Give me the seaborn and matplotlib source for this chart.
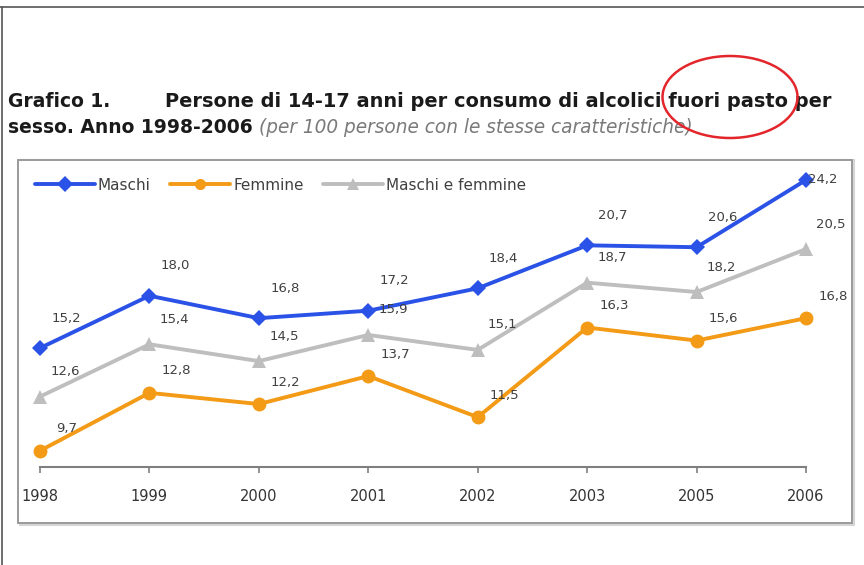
import numpy as np
import pandas as pd
import matplotlib
matplotlib.use("Agg")
import matplotlib.pyplot as plt
from matplotlib.patches import Rectangle, Ellipse
from matplotlib.lines import Line2D
import seaborn as sns

# ---- data ----
anni = ["1998", "1999", "2000", "2001", "2002", "2003", "2005", "2006"]
maschi = [15.2, 18.0, 16.8, 17.2, 18.4, 20.7, 20.6, 24.2]
femmine = [9.7, 12.8, 12.2, 13.7, 11.5, 16.3, 15.6, 16.8]
maschi_e_femmine = [12.6, 15.4, 14.5, 15.9, 15.1, 18.7, 18.2, 20.5]
serie_nomi = ["Maschi", "Femmine", "Maschi e femmine"]

titolo_num = "Grafico 1."
titolo_1 = "Persone di 14-17 anni per consumo di alcolici fuori pasto per"
titolo_2 = "sesso. Anno 1998-2006"
sottotitolo = "(per 100 persone con le stesse caratteristiche)"

df = pd.DataFrame({
    "anno": anni * 3,
    "valore": maschi + femmine + maschi_e_femmine,
    "serie": [serie_nomi[0]] * len(anni) + [serie_nomi[1]] * len(anni) + [serie_nomi[2]] * len(anni),
})

# ---- style ----
sns.set_style("white")
plt.rcParams["font.family"] = ["DejaVu Sans"]

W, H = 864, 565
fig = plt.figure(figsize=(W / 100, H / 100), dpi=100)
fig.patch.set_facecolor("white")

def fx(px):
    return px / W

def fy(py):
    return 1 - py / H

colori = {"Maschi": "#2B52E6", "Femmine": "#F39A16", "Maschi e femmine": "#BEBEBE"}
marcatori = {"Maschi": "D", "Femmine": "o", "Maschi e femmine": "^"}
msize = {"Maschi": 8.5, "Femmine": 10, "Maschi e femmine": 10}

# outer screenshot frame
fig.add_artist(Line2D([0, 1], [fy(7), fy(7)], transform=fig.transFigure, color="#555555", lw=1.2))
fig.add_artist(Line2D([fx(1.5), fx(1.5)], [fy(7), 0], transform=fig.transFigure, color="#555555", lw=1.2))

# chart box
fig.add_artist(Rectangle((fx(20), fy(525)), fx(834), 365 / H, transform=fig.transFigure,
                         facecolor="none", edgecolor="#d6d6d6", lw=1.5, zorder=0))
fig.add_artist(Rectangle((fx(18), fy(523)), fx(834), 363 / H, transform=fig.transFigure,
                         facecolor="white", edgecolor="#9a9a9a", lw=1.4, zorder=0))

# axes (plot area)
ax = fig.add_axes([fx(18), fy(467), fx(834), (467 - 160) / H])
ax.set_facecolor("none")
ax.patch.set_alpha(0)

sns.lineplot(data=df, x="anno", y="valore", hue="serie", style="serie",
             hue_order=serie_nomi, style_order=serie_nomi,
             palette=colori, markers=marcatori, dashes=False,
             linewidth=2.8, markersize=10, markeredgewidth=0, ax=ax)

for line in ax.lines:
    line.set_clip_on(False)
for line, nome in zip(ax.lines, serie_nomi):
    line.set_markersize(msize[nome])

ax.set_xlim(-0.201, 7.42)
ax.set_ylim(8.83, 25.27)

for s in ["top", "left", "right"]:
    ax.spines[s].set_visible(False)
ax.spines["bottom"].set_bounds(0, len(anni) - 1)
ax.spines["bottom"].set_color("#7f7f7f")
ax.spines["bottom"].set_linewidth(1.5)
ax.set_yticks([])
ax.set_xlabel("")
ax.set_ylabel("")
ax.tick_params(axis="x", direction="out", length=4, width=1.2, color="#7f7f7f",
               pad=12, labelsize=10.5, labelcolor="#333333", bottom=True)

# data labels
offsets = {"Maschi": (26, 30), "Femmine": (27, 22), "Maschi e femmine": (25, 25)}
valori = {"Maschi": maschi, "Femmine": femmine, "Maschi e femmine": maschi_e_femmine}
to_pt = 72 / 100
ymax = ax.get_ylim()[1]
for nome in serie_nomi:
    dx, dy = offsets[nome]
    for i, v in enumerate(valori[nome]):
        ddx, ddy = dx, dy
        # keep labels inside plot box: if too close to top, put label to the right
        if v > ymax - 2.5:
            ddx, ddy = 17, 0
        ax.annotate(f"{v:.1f}".replace(".", ","), (i, v),
                    xytext=(ddx * to_pt, ddy * to_pt), textcoords="offset points",
                    ha="center", va="center", fontsize=9.5, color="#404040",
                    annotation_clip=False)

# legend
sns.move_legend(ax, loc="center left", bbox_to_anchor=(fx(35), fy(185)),
                bbox_transform=fig.transFigure, ncol=3, frameon=False, title=None,
                handlelength=3.9, handletextpad=0.2, columnspacing=1.3, fontsize=11,
                borderaxespad=0, borderpad=0, markerscale=0.8)
for t in ax.get_legend().get_texts():
    t.set_color("#404040")

# title
renderer = fig.canvas.get_renderer()

def fit(t, target):
    w = t.get_window_extent(renderer).width
    t.set_fontsize(t.get_fontsize() * target / w)

t1 = fig.text(fx(165), fy(107), titolo_1, fontweight="bold", fontsize=12,
              family="DejaVu Sans", color="#1a1a1a", va="baseline")
fit(t1, 663)
fs = t1.get_fontsize()
fig.text(fx(8), fy(107), titolo_num, fontweight="bold", fontsize=fs * 0.97,
         family="DejaVu Sans", color="#1a1a1a", va="baseline")
t3 = fig.text(fx(8), fy(133), titolo_2, fontweight="bold", fontsize=fs * 0.97,
              family="DejaVu Sans", color="#1a1a1a", va="baseline")
x_end = t3.get_window_extent(renderer).x1 + 6
t4 = fig.text(x_end / W, fy(133), sottotitolo, style="italic", fontsize=12,
              family="DejaVu Sans", color="#7a7a7a", va="baseline")
fit(t4, 692 - x_end)

# red annotation ellipse
fig.add_artist(Ellipse((fx(730), fy(97)), fx(135), 82 / H, transform=fig.transFigure,
                       facecolor="none", edgecolor="#E3262B", lw=1.8, zorder=10))

fig.savefig("out.png", dpi=100)
